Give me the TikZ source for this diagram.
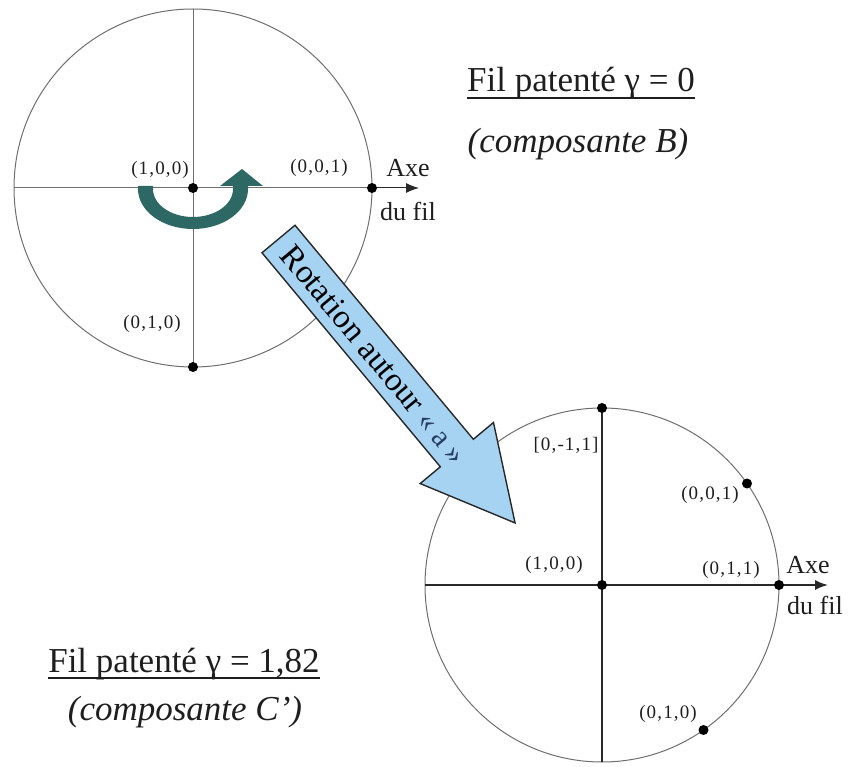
\documentclass[tikz,border=0pt]{standalone}
\usepackage{fontspec}
\setmainfont{Liberation Serif}
\usetikzlibrary{arrows.meta}
\definecolor{teal1}{RGB}{46,104,100}
\definecolor{lblue}{RGB}{166,211,242}
\definecolor{gline}{RGB}{110,110,110}
\definecolor{dline}{RGB}{40,40,40}
\definecolor{txt}{RGB}{30,30,30}
\definecolor{navy}{RGB}{40,60,100}
\begin{document}
\begin{tikzpicture}[x=1pt,y=-1pt,
  lbl/.style={font=\fontsize{19}{22}\selectfont\addfontfeature{LetterSpace=6}, text=txt, inner sep=0},
  axlbl/.style={font=\fontsize{26}{30}\selectfont, text=txt, inner sep=0, anchor=base},
  title/.style={font=\fontsize{35}{40}\selectfont, text=txt, inner sep=0, anchor=base},
  subt/.style={font=\fontsize{35}{40}\selectfont\itshape, text=txt, inner sep=0, anchor=base},
  dot/.style={circle, fill=black, inner sep=0, minimum size=10pt},
  thinc/.style={draw=gline, line width=1pt},
  axA/.style={draw=gline, line width=1pt},
  axB/.style={draw=dline, line width=1.6pt},
  tip/.style={-{Latex[length=13pt,width=10pt]}}]
\useasboundingbox (0,0) rectangle (849,767);

% ---------- top circle ----------
\coordinate (C1) at (193,188);
\coordinate (T1) at (193,9);
\coordinate (B1) at (193,367);
\coordinate (L1) at (14,188);
\coordinate (R1) at (372,188);
\coordinate (A1) at (419,188);
\draw[thinc] (C1) circle[radius=179];
\draw[axA] (T1) -- (B1);
\draw[axA,tip,draw=dline] (L1) -- (A1);
\draw[axA] (L1) -- (R1);
\node[dot] (d1c) at (C1) {};
\node[dot] (d1r) at (R1) {};
\node[dot] (d1b) at (B1) {};
\node[lbl] (l100a) at (160,170) {(1,0,0)};
\node[lbl] (l001a) at (319,168) {(0,0,1)};
\node[lbl] (l010a) at (152,324) {(0,1,0)};
\node[axlbl] (axe1) at (408,177) {Axe};
\node[axlbl] (fil1) at (408,221) {du fil};

% teal rotation arrow
\fill[teal1] (138,186) -- (138,189) arc[start angle=180, end angle=0, x radius=55, y radius=40]
  -- (248,186) -- (263,186) -- (242,169) -- (220,186) -- (233,186) -- (233,189)
  arc[start angle=0, end angle=180, x radius=40, y radius=28] -- (153,186) -- cycle;

% ---------- bottom circle ----------
\coordinate (C2) at (602,585);
\coordinate (T2) at (602,408);
\coordinate (B2) at (602,762);
\coordinate (L2) at (425,585);
\coordinate (R2) at (779,585);
\coordinate (A2) at (828,585);
\coordinate (P1) at (747,483.5);
\coordinate (P2) at (703.5,730);
\draw[thinc] (C2) circle[radius=177];
\draw[axB] (T2) -- (B2);
\draw[axB,tip] (L2) -- (A2);
\node[dot] (d2t) at (T2) {};
\node[dot] (d2c) at (C2) {};
\node[dot] (d2r) at (R2) {};
\node[dot] (d2p) at (P1) {};
\node[dot] (d2q) at (P2) {};
\node[lbl] (lm11) at (566,445) {[0,-1,1]};
\node[lbl] (l001b) at (710,495) {(0,0,1)};
\node[lbl] (l100b) at (554,565) {(1,0,0)};
\node[lbl] (l011b) at (731,570) {(0,1,1)};
\node[lbl] (l010b) at (668,714) {(0,1,0)};
\node[axlbl] (axe2) at (808,573) {Axe};
\node[axlbl] (fil2) at (815,614) {du fil};

% ---------- titles ----------
\node[title] (t1) at (581,92) {Fil patenté γ = 0};
\draw[txt, line width=1.8pt] ([yshift=-6pt]t1.base west) -- ([yshift=-6pt]t1.base east);
\node[subt] (s1) at (578,153) {(composante B)};
\node[title] (t2) at (184,672) {Fil patenté γ = 1,82};
\draw[txt, line width=1.8pt] ([yshift=-6pt]t2.base west) -- ([yshift=-6pt]t2.base east);
\node[subt] (s2) at (185,720) {(composante C’)};

% ---------- big arrow ----------
\begin{scope}[shift={(278.5,239)}, rotate=-50.2]
\filldraw[fill=lblue, draw=dline, line width=1.4pt, line join=miter]
  (0,21.5) -- (278.6,21.5) -- (278.6,47.7) -- (369.6,0) -- (278.6,-47.7)
  -- (278.6,-21.5) -- (0,-21.5) -- cycle;
\node[rotate=-50.2, inner sep=0, text=black, font=\fontsize{33}{36}\selectfont] (rot) at (150,0)
  {Rotation autour {\fontsize{30}{33}\selectfont\color{navy}« a »}};
\end{scope}
\end{tikzpicture}
\end{document}
